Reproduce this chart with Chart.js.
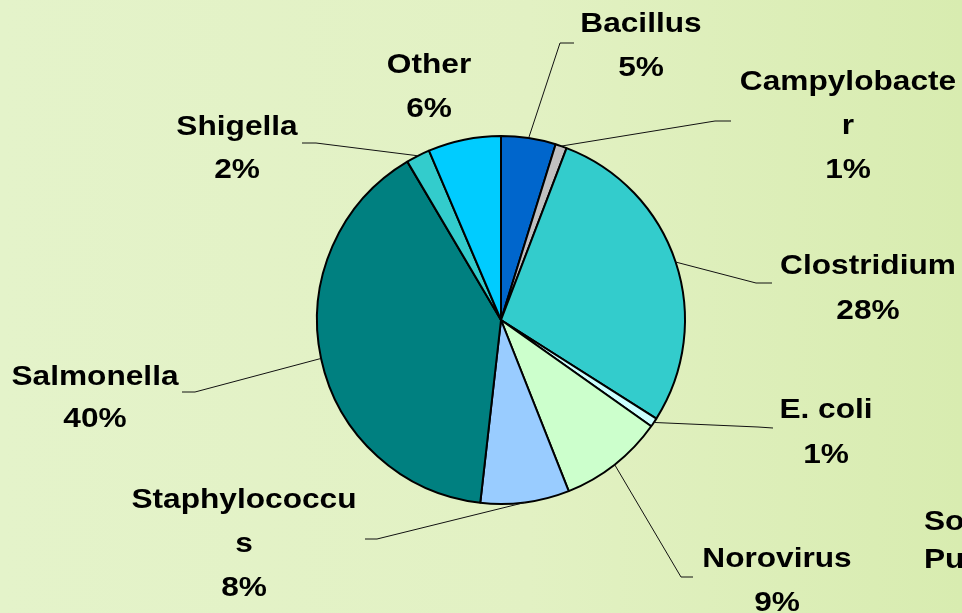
<!DOCTYPE html>
<html>
<head>
<meta charset="utf-8">
<script src="https://cdn.jsdelivr.net/npm/chart.js@4.4.1/dist/chart.umd.min.js"></script>
<style>
  html, body { margin: 0; padding: 0; }
  body {
    width: 962px; height: 613px; overflow: hidden;
    background: linear-gradient(90deg, #E4F3CA 0%, #E2F1C3 55%, #D8ECB0 100%);
  }
  #wrap { position: relative; width: 962px; height: 613px; }
</style>
</head>
<body>
<div id="wrap"><canvas id="c" width="962" height="613"></canvas></div>
<script>
// ---- data ----
const categories = ["Bacillus", "Campylobacter", "Clostridium", "E. coli", "Norovirus", "So… Pu…", "Staphylococcus", "Salmonella", "Shigella", "Other"];
const shares = [4.8, 1.0, 28.2, 0.8, 9.2, 0, 7.8, 39.7, 2.1, 6.4];
const percentLabels = ["5%", "1%", "28%", "1%", "9%", "", "8%", "40%", "2%", "6%"];
const labelLines = [["Bacillus"], ["Campylobacte", "r"], ["Clostridium"], ["E. coli"], ["Norovirus"], ["So", "Pu"], ["Staphylococcu", "s"], ["Salmonella"], ["Shigella"], ["Other"]];

// ---- styles / layout ----
const colors = ["#0066CC", "#C0C0C0", "#33CCCC", "#CCFFFF", "#CCFFCC", "#FFFFFF", "#99CCFF", "#008080", "#33CCCC", "#00CCFF"];
// label placement: x, first baseline, line step, align; leader elbow & end
const layout = [
  {x: 641, y: 32,  step: 44, align: "center", elbow: [560, 43],  end: [574, 43]},
  {x: 848, y: 90,  step: 44, align: "center", elbow: [715, 121], end: [731, 121]},
  {x: 868, y: 274, step: 45, align: "center", elbow: [756, 283], end: [772, 283]},
  {x: 826, y: 418, step: 45, align: "center", elbow: [758, 427], end: [773, 428]},
  {x: 777, y: 567, step: 44, align: "center", elbow: [681, 577], end: [693, 577]},
  {x: 924, y: 530, step: 38, align: "left",   elbow: null, end: null},
  {x: 244, y: 508, step: 44, align: "center", elbow: [377, 539], end: [365, 539]},
  {x: 95,  y: 385, step: 42, align: "center", elbow: [195, 392], end: [182, 392]},
  {x: 237, y: 135, step: 43, align: "center", elbow: [316, 143], end: [302, 143]},
  {x: 429, y: 73,  step: 44, align: "center", elbow: null, end: null}
];

const labelPlugin = {
  id: 'outsideLabels',
  afterDatasetsDraw(chart) {
    const ctx = chart.ctx;
    const meta = chart.getDatasetMeta(0);
    ctx.save();
    // leader lines
    ctx.strokeStyle = '#111';
    ctx.lineWidth = 1;
    meta.data.forEach((arc, i) => {
      const L = layout[i];
      if (!L.elbow) return;
      const p = arc.getProps(['x', 'y', 'startAngle', 'endAngle', 'outerRadius'], true);
      const mid = (p.startAngle + p.endAngle) / 2;
      const sx = p.x + Math.cos(mid) * p.outerRadius;
      const sy = p.y + Math.sin(mid) * p.outerRadius;
      ctx.beginPath();
      ctx.moveTo(sx, sy);
      ctx.lineTo(L.elbow[0], L.elbow[1]);
      ctx.lineTo(L.end[0], L.end[1]);
      ctx.stroke();
    });
    // texts
    ctx.fillStyle = '#000';
    ctx.font = 'bold 28px "Liberation Sans", Arial, sans-serif';
    ctx.textBaseline = 'alphabetic';
    const sx = 1.13;
    categories.forEach((c, i) => {
      const L = layout[i];
      const lines = labelLines[i].slice();
      if (percentLabels[i]) lines.push(percentLabels[i]);
      lines.forEach((t, k) => {
        ctx.save();
        ctx.translate(L.x, L.y + k * L.step);
        ctx.scale(sx, 1);
        ctx.textAlign = L.align;
        ctx.fillText(t, 0, 0);
        ctx.restore();
      });
    });
    ctx.restore();
  }
};

new Chart(document.getElementById('c'), {
  type: 'pie',
  data: {
    labels: categories,
    datasets: [{
      data: shares,
      backgroundColor: colors,
      borderColor: '#000',
      borderWidth: 2
    }]
  },
  options: {
    responsive: false,
    animation: false,
    layout: { padding: { left: 316, right: 276, top: 135, bottom: 108 } },
    plugins: { legend: { display: false }, tooltip: { enabled: false } }
  },
  plugins: [labelPlugin]
});
</script>
</body>
</html>
